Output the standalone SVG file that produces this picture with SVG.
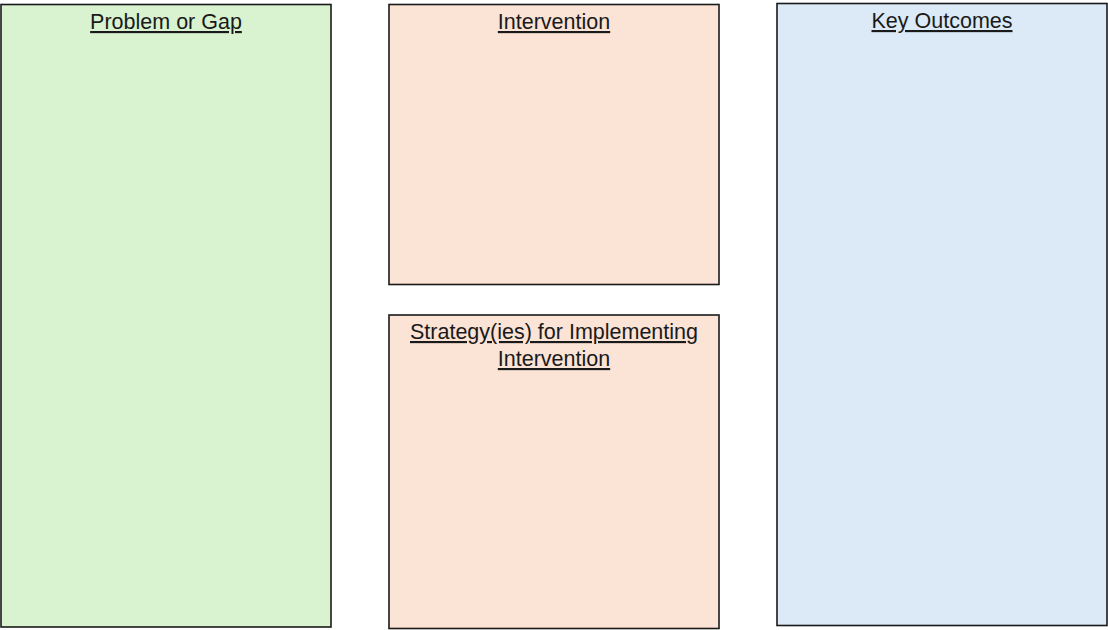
<svg xmlns="http://www.w3.org/2000/svg" width="1108" height="630" viewBox="0 0 1108 630">
<style>
.box{stroke:#1a1a1a;stroke-width:1.6}
.t{font-family:"Liberation Sans",Arial,sans-serif;font-size:21.5px;fill:#1a1a1a;text-anchor:middle;text-decoration:underline}
</style>
<rect width="1108" height="630" fill="#ffffff"/>
<g id="problem">
<rect class="box" x="1" y="4.5" width="330" height="622.5" fill="#D9F2D0"/>
<text class="t" x="166" y="29">Problem or Gap</text>
</g>
<g id="intervention">
<rect class="box" x="389" y="4.5" width="330" height="280" fill="#FBE3D6"/>
<text class="t" x="554" y="29">Intervention</text>
</g>
<g id="strategy">
<rect class="box" x="389" y="315" width="330" height="313.5" fill="#FBE3D6"/>
<text class="t" x="554" y="339">Strategy(ies) for Implementing</text>
<text class="t" x="554" y="366">Intervention</text>
</g>
<g id="outcomes">
<rect class="box" x="777" y="3.5" width="330" height="622" fill="#DCEAF7"/>
<text class="t" x="942" y="28">Key Outcomes</text>
</g>
<g id="connectors"></g>
</svg>
